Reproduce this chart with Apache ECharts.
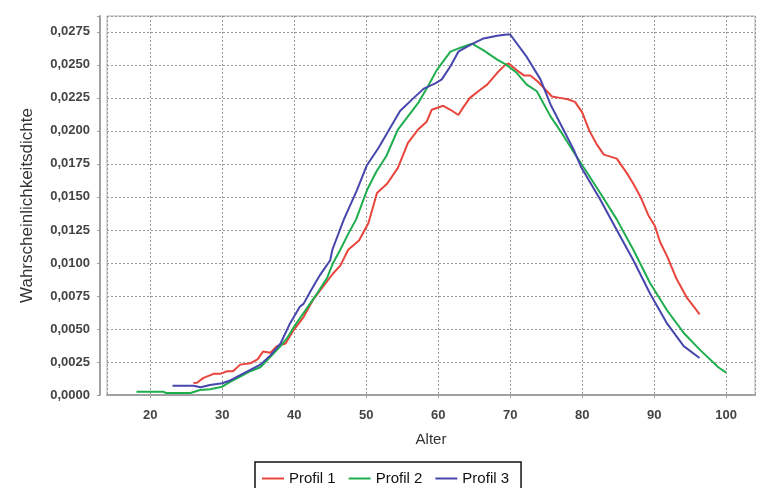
<!DOCTYPE html>
<html>
<head>
<meta charset="utf-8">
<script src="https://cdn.jsdelivr.net/npm/echarts@6/dist/echarts.min.js"></script>
<style>
  html, body { margin: 0; padding: 0; background: #ffffff; }
  #chart { width: 757px; height: 488px; }
</style>
</head>
<body>
<div id="chart"></div>
<script>
// Age-density profiles (Alter vs. Wahrscheinlichkeitsdichte)
const seriesNames = ['Profil 1', 'Profil 2', 'Profil 3'];

const ages1 = [26, 26.5, 27.4, 28.8, 29.7, 30.7, 31.5, 32.5, 33.9, 34.9, 35.7, 36.7, 37.6, 38.8, 39.9,
  41.3, 42.6, 44, 45.4, 46.4, 47.5, 49, 50.3, 51.5, 52.9, 54.4, 55.8, 57.2, 58.4, 59.1, 60.7, 61.7,
  62.8, 63.5, 64.4, 65.8, 66.8, 68.2, 69.3, 69.8, 70.9, 71.9, 72.8, 73.9, 75.1, 75.8, 76.9, 78, 79,
  80, 81, 82, 83, 84.8, 86.2, 87.1, 88.1, 89.2, 90.1, 90.8, 91.8, 93.1, 94.5, 95.5, 96.3];
const profil1 = [0.0009, 0.00093, 0.0013, 0.0016, 0.0016, 0.0018, 0.0018, 0.0023, 0.0024, 0.0027, 0.0033,
  0.0032, 0.0037, 0.0039, 0.0049, 0.0059, 0.0072, 0.0082, 0.0092, 0.0098, 0.0110, 0.0117, 0.0130,
  0.0153, 0.0160, 0.0172, 0.0191, 0.0201, 0.0207, 0.0216, 0.0219, 0.0216, 0.0212, 0.0218, 0.0225,
  0.0231, 0.0235, 0.0244, 0.0250, 0.0251, 0.0246, 0.0242, 0.0242, 0.0237, 0.0230, 0.0226, 0.0225,
  0.0224, 0.0222, 0.0214, 0.0200, 0.0190, 0.0182, 0.0179, 0.0168, 0.0160, 0.0150, 0.0136, 0.0128,
  0.0116, 0.0105, 0.0088, 0.0074, 0.0067, 0.0061];

const ages2 = [18.1, 21.8, 22.2, 25.6, 26.9, 28.3, 30, 31.1, 32.5, 33.9, 35.3, 36.7, 38.1, 39, 39.9,
  41.8, 43.2, 44.6, 45.4, 46.4, 47.5, 48.6, 50.1, 51.4, 52.8, 54.4, 55.8, 57.2, 58.6, 59.8, 61.7,
  63.1, 64.7, 66.3, 68.2, 69.5, 70.9, 72.3, 73.7, 75.6, 77.2, 78.8, 80.6, 82.5, 84.8, 87.1, 89.4,
  91.8, 94.1, 96.4, 98.9, 100];
const profil2 = [0.00025, 0.00025, 0.00015, 0.00015, 0.00038, 0.00043, 0.00063, 0.0010, 0.0014, 0.0018,
  0.0021, 0.0029, 0.0037, 0.0043, 0.0051, 0.0066, 0.0077, 0.0089, 0.0100, 0.0110, 0.0122, 0.0133,
  0.0155, 0.0169, 0.0181, 0.0201, 0.0211, 0.0221, 0.0234, 0.0246, 0.0260, 0.0263, 0.0266, 0.0261,
  0.0254, 0.0250, 0.0244, 0.0235, 0.0230, 0.0211, 0.0198, 0.0184, 0.0169, 0.0153, 0.0133, 0.0110,
  0.0085, 0.0064, 0.0047, 0.0034, 0.0021, 0.0017];

const ages3 = [23.1, 26, 27, 28.3, 30, 31.1, 32.5, 33.9, 35.3, 36.7, 38.1, 39.4, 40.8, 41.3, 42.2,
  43.6, 45, 45.3, 46.9, 48.7, 50.1, 51.7, 53.3, 54.7, 56.6, 58, 59.6, 60.5, 61.7, 62.8, 64.4, 66.3,
  68.2, 69.5, 70, 72.3, 74.2, 75.6, 77.2, 78.8, 79.9, 82.5, 84.8, 87.1, 89.4, 91.8, 94.1, 96.3];
const profil3 = [0.0007, 0.0007, 0.00058, 0.00076, 0.00089, 0.0011, 0.0015, 0.0019, 0.0023, 0.0030,
  0.0039, 0.0054, 0.0067, 0.0069, 0.0078, 0.0091, 0.0102, 0.0110, 0.0133, 0.0155, 0.0174, 0.0187,
  0.0202, 0.0215, 0.0225, 0.0232, 0.0236, 0.0239, 0.0249, 0.0260, 0.0265, 0.0270, 0.0272, 0.0273,
  0.0273, 0.0256, 0.0239, 0.0220, 0.0203, 0.0186, 0.0172, 0.0148, 0.0125, 0.0102, 0.0077, 0.0054,
  0.0037, 0.0028];

const yTickStep = 0.0025;

const pairs = (xs, ys) => xs.map((x, i) => [x, ys[i]]);
const colors = ['#e8463c', '#1fae4e', '#4646ad'];
const font = 'Liberation Sans, Arial, sans-serif';

const chart = echarts.init(document.getElementById('chart'), null, { renderer: 'canvas' });

chart.setOption({
  animation: false,
  backgroundColor: '#ffffff',
  color: colors,
  grid: {
    left: 107, right: 2, top: 16, bottom: 93,
    show: true, borderColor: '#b0b0b0', borderWidth: 1, backgroundColor: '#ffffff'
  },
  legend: {
    data: seriesNames,
    left: 255, top: 462,
    icon: 'rect', itemWidth: 22, itemHeight: 2, itemGap: 13, itemTextGap: 5,
    padding: [9, 12, 9, 7],
    borderColor: '#111111', borderWidth: 1.5,
    textStyle: { fontFamily: font, fontSize: 15, color: '#111111' }
  },
  xAxis: {
    type: 'value',
    min: 14, max: 104, splitNumber: 9,
    offset: 7,
    name: 'Alter', nameLocation: 'middle', nameGap: 30,
    nameTextStyle: { fontFamily: font, fontSize: 15, color: '#333333' },
    axisLine: { show: true, lineStyle: { color: '#a0a0a0', width: 2 } },
    axisTick: { show: true, length: 3, lineStyle: { color: '#a0a0a0' } },
    axisLabel: {
      fontFamily: font, fontSize: 13, fontWeight: 'bold', color: '#444444', margin: 7,
      showMinLabel: false, showMaxLabel: false,
      formatter: v => (Math.abs(v % 10) < 1e-6 ? String(v) : '')
    },
    splitLine: { show: true, lineStyle: { color: '#9a9a9a', type: [2, 2], width: 1 } }
  },
  yAxis: {
    type: 'value',
    min: 0, max: 0.0287, interval: yTickStep,
    offset: 7,
    name: 'Wahrscheinlichkeitsdichte', nameLocation: 'middle', nameGap: 64,
    nameTextStyle: { fontFamily: font, fontSize: 17, color: '#333333' },
    axisLine: { show: true, lineStyle: { color: '#a0a0a0', width: 2 } },
    axisTick: { show: true, length: 3, lineStyle: { color: '#a0a0a0' } },
    axisLabel: {
      fontFamily: font, fontSize: 13, fontWeight: 'bold', color: '#444444', margin: 10,
      formatter: v => {
        const k = v / yTickStep;
        if (Math.abs(k - Math.round(k)) > 1e-6) return '';
        return v.toFixed(4).replace('.', ',');
      }
    },
    splitLine: { show: true, lineStyle: { color: '#9a9a9a', type: [2, 2], width: 1 } }
  },
  series: [
    { name: seriesNames[0], type: 'line', data: pairs(ages1, profil1), showSymbol: false, lineStyle: { width: 2 } },
    { name: seriesNames[1], type: 'line', data: pairs(ages2, profil2), showSymbol: false, lineStyle: { width: 2 } },
    { name: seriesNames[2], type: 'line', data: pairs(ages3, profil3), showSymbol: false, lineStyle: { width: 2 } }
  ]
});
</script>
</body>
</html>
